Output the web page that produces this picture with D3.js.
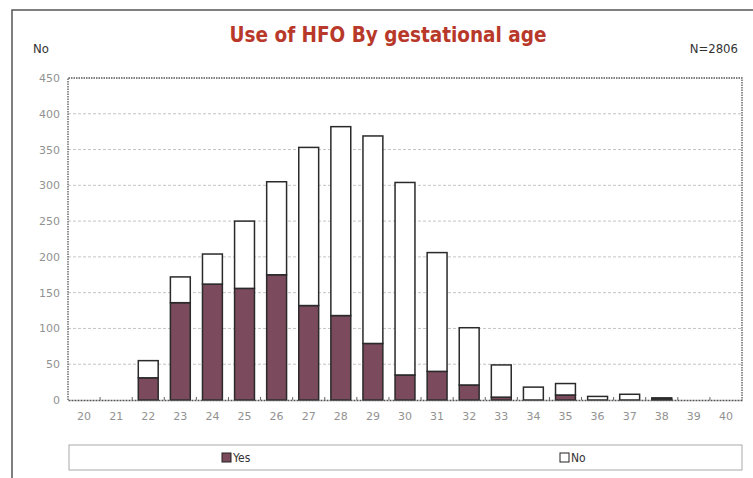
<!DOCTYPE html>
<html><head><meta charset="utf-8">
<script src="https://cdn.jsdelivr.net/npm/d3@7"></script>
<style>body{margin:0;background:#fff;} svg{display:block;}</style>
</head><body>
<svg id="c" width="753" height="478"></svg>
<script>
const categories = ["20","21","22","23","24","25","26","27","28","29","30","31","32","33","34","35","36","37","38","39","40"];
const yesValues = [0,0,31,136,162,156,175,132,118,79,35,40,21,4,0,7,0,0,1,0,0];
const noValues  = [0,0,24,36,42,94,130,221,264,290,269,166,80,45,18,16,5,8,2,0,0];
const yTicks = [0,50,100,150,200,250,300,350,400,450];
const seriesNames = ["Yes","No"];
const seriesColors = ["#7b4a5d","#ffffff"];

const svg = d3.select("#c");
const m = {left:68, right:742, top:78, bottom:400};

// outer frame
svg.append("path").attr("d","M12,478 L12,10 L753,10").attr("fill","none").attr("stroke","#555").attr("stroke-width",1.5);

const x = d3.scaleBand().domain(categories).range([m.left,m.right]).paddingInner(0.38).paddingOuter(0.19);
const y = d3.scaleLinear().domain([0,450]).range([m.bottom,m.top]);

// gridlines
svg.append("g").selectAll("line").data(yTicks.filter(d=>d>0 && d<450)).join("line")
  .attr("x1",m.left).attr("x2",m.right).attr("y1",d=>y(d)).attr("y2",d=>y(d))
  .attr("stroke","#c4c4c4").attr("stroke-dasharray","3,2").attr("stroke-width",1);

// plot frame (dotted)
svg.append("path").attr("d",`M${m.left},${m.bottom} L${m.left},${m.top} L${m.right},${m.top} L${m.right},${m.bottom}`)
  .attr("fill","none").attr("stroke","#555").attr("stroke-dasharray","1.5,1").attr("stroke-width",1.3);

// y axis labels
const yAxis = d3.axisLeft(y).tickValues(yTicks).tickSize(0).tickPadding(8);
const gy = svg.append("g").attr("transform",`translate(${m.left},0)`).call(yAxis);
gy.select(".domain").remove();
gy.selectAll("text").attr("fill","#929292").style("font-family","DejaVu Sans, Verdana, sans-serif").style("font-size","11px");

// bars
const stackData = categories.map((c,i)=>({cat:c, Yes:yesValues[i], No:noValues[i]}));
const stacked = d3.stack().keys(seriesNames)(stackData);
const gb = svg.append("g");
stacked.forEach((s,si)=>{
  gb.selectAll(null).data(s.filter(d=>d[1]-d[0]>0)).join("rect")
    .attr("x",d=>x(d.data.cat)).attr("width",x.bandwidth())
    .attr("y",d=>y(d[1])).attr("height",d=>y(d[0])-y(d[1]))
    .attr("fill",seriesColors[si]).attr("stroke","#2a2a2a").attr("stroke-width",1.5);
});

// x axis
const xAxis = d3.axisBottom(x).tickSize(0).tickPadding(12);
const gx = svg.append("g").attr("transform",`translate(0,${m.bottom})`).call(xAxis);
gx.select(".domain").attr("stroke","#555").attr("stroke-dasharray","2,1").attr("stroke-width",1.3);
gx.selectAll("text").attr("fill","#929292").style("font-family","DejaVu Sans, Verdana, sans-serif").style("font-size","11px");
// small ticks at band boundaries
svg.append("g").selectAll("line").data(categories.slice(1)).join("line")
  .attr("x1",d=>x(d)-x.step()*x.paddingInner()/2).attr("x2",d=>x(d)-x.step()*x.paddingInner()/2)
  .attr("y1",m.bottom-3).attr("y2",m.bottom).attr("stroke","#666").attr("stroke-width",1);

// title & labels
svg.append("text").attr("x",388).attr("y",42).attr("text-anchor","middle")
  .style("font-family","DejaVu Sans Condensed, DejaVu Sans, sans-serif").style("font-weight","bold")
  .style("font-size","20.5px").attr("fill","#b8382a").text("Use of HFO By gestational age");
svg.append("text").attr("x",33).attr("y",53).style("font-family","DejaVu Sans Condensed, sans-serif")
  .style("font-size","13px").attr("fill","#333").text("No");
svg.append("text").attr("x",738).attr("y",53).attr("text-anchor","end").style("font-family","DejaVu Sans Condensed, sans-serif")
  .style("font-size","13px").attr("fill","#333").text("N=2806");

// legend
svg.append("rect").attr("x",69).attr("y",445).attr("width",673).attr("height",25)
  .attr("fill","#fff").attr("stroke","#aaa").attr("stroke-width",1);
const legX = [222,560];
seriesNames.forEach((n,i)=>{
  svg.append("rect").attr("x",legX[i]).attr("y",453).attr("width",9).attr("height",9)
    .attr("fill",seriesColors[i]).attr("stroke","#222").attr("stroke-width",1);
  svg.append("text").attr("x",legX[i]+11).attr("y",462).style("font-family","DejaVu Sans Condensed, sans-serif")
    .style("font-size","12px").attr("fill","#333").text(n);
});
</script>
</body></html>
